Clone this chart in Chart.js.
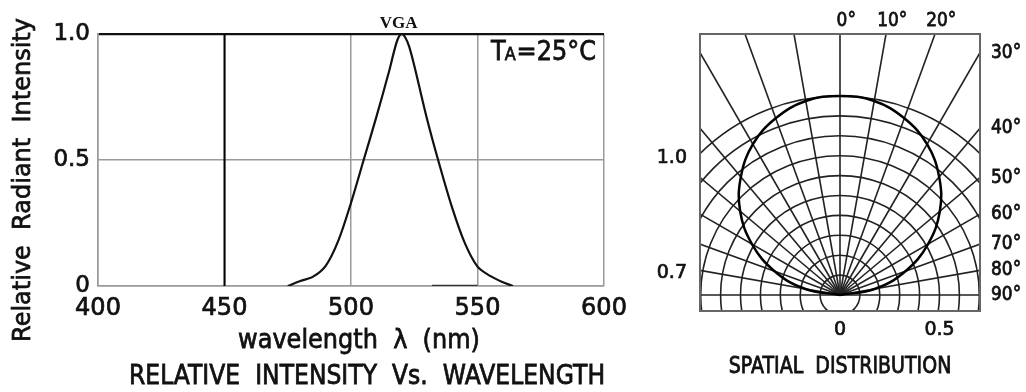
<!DOCTYPE html>
<html>
<head>
<meta charset="utf-8">
<title>VGA LED - spectrum and spatial distribution</title>
<script src="https://cdn.jsdelivr.net/npm/chart.js@4.4.1/dist/chart.umd.min.js"></script>
<style>
  html, body { margin: 0; padding: 0; background: #fff; }
  #wrap { position: relative; width: 1026px; height: 392px; overflow: hidden; }
  #spectrumBox { position: absolute; left: 0; top: 0; width: 640px; height: 392px; }
  #polarBox { position: absolute; left: 640px; top: 0; width: 386px; height: 392px; }
</style>
</head>
<body>
<div id="wrap">
  <div id="spectrumBox"><canvas id="spectrumChart"></canvas></div>
  <div id="polarBox"><canvas id="polarChart"></canvas></div>
</div>
<script>
// ---- Relative intensity vs wavelength ----
const wavelengths = [475, 480, 485, 490, 495, 500, 505, 510, 515, 517, 518.5, 520, 521.5, 523, 525, 530, 535, 540, 545, 550, 555, 560, 564];
const relIntensity = [0, 0.02, 0.037, 0.08, 0.18, 0.33, 0.5, 0.67, 0.85, 0.93, 0.98, 1.0, 0.985, 0.95, 0.875, 0.665, 0.48, 0.31, 0.17, 0.077, 0.04, 0.015, 0];
const markerWavelength = [450, 450];
const markerIntensity = [0, 1];
const baseWavelength = [532, 550];
const baseIntensity = [0, 0];
const xTicks = [400, 450, 500, 550, 600];
const yTicks = [0, 0.5, 1.0];
const yTickLabels = ['0', '0.5', '1.0'];
const curveName = 'VGA';

// ---- Spatial distribution ----
const polarAngles = [-90, -80, -70, -60, -50, -40, -30, -20, -10, 0, 10, 20, 30, 40, 50, 60, 70, 80, 90];
const polarIntensity = [0, 0.18, 0.35, 0.51, 0.655, 0.775, 0.875, 0.945, 0.99, 1.0, 0.99, 0.945, 0.875, 0.775, 0.655, 0.51, 0.35, 0.18, 0];
const ringRadii = [0.1, 0.2, 0.3, 0.4, 0.5, 0.6, 0.7, 0.8, 0.9, 1.0];
const radialAngles = [-90, -80, -70, -60, -50, -40, -30, -20, -10, 0, 10, 20, 30, 40, 50, 60, 70, 80, 90];
const angleLabelAngles = [0, 10, 20, 30, 40, 50, 60, 70, 80, 90];
const angleLabels = ['0°', '10°', '20°', '30°', '40°', '50°', '60°', '70°', '80°', '90°'];
const polarXTicks = [0, 0.5];
const polarXTickLabels = ['0', '0.5'];
const polarYTickLabels = ['1.0', '0.7'];

const FONT = "'DejaVu Sans', sans-serif";
const INK = '#111';
const STROKE = 0.7; // thickens the regular face a little, the datasheet lettering is semi-bold
Chart.defaults.font.family = FONT;
Chart.defaults.color = INK;

function toPoints(xs, ys) {
    return xs.map((v, i) => ({ x: v, y: ys[i] }));
}

// semi-bold text, optionally a bit taller than the font draws it
function label(ctx, text, x, y, stretch) {
    ctx.save();
    ctx.translate(x, y);
    ctx.scale(1, stretch || 1);
    ctx.fillStyle = INK;
    ctx.strokeStyle = INK;
    ctx.lineWidth = STROKE;
    ctx.fillText(text, 0, 0);
    ctx.strokeText(text, 0, 0);
    ctx.restore();
}

const tickStyle = size => ({ size: size });

// Left chart: titles, labels inside plot and caption
const spectrumLabels = {
    id: 'spectrumLabels',
    afterDraw(chart) {
        const { ctx, chartArea: a, scales: { x, y } } = chart;
        ctx.save();

        // y title
        ctx.save();
        ctx.translate(23, 180);
        ctx.rotate(-Math.PI / 2);
        ctx.font = '24px ' + FONT;
        ctx.textAlign = 'center';
        ctx.textBaseline = 'middle';
        label(ctx, 'Relative  Radiant  Intensity', 0, 0, 1.05);
        ctx.restore();

        // x title
        ctx.font = '24px ' + FONT;
        ctx.textAlign = 'center';
        ctx.textBaseline = 'middle';
        label(ctx, 'wavelength  λ  (nm)', (a.left + a.right) / 2 + 8, 341, 1.12);

        // caption
        ctx.font = '23.5px ' + FONT;
        label(ctx, 'RELATIVE  INTENSITY  Vs.  WAVELENGTH', (a.left + a.right) / 2 + 16, 377, 1.12);

        // curve name above the peak
        const peak = relIntensity.indexOf(Math.max(...relIntensity));
        ctx.font = "bold 17px 'Liberation Serif', serif";
        ctx.textAlign = 'center';
        ctx.textBaseline = 'alphabetic';
        ctx.fillStyle = INK;
        ctx.fillText(curveName, x.getPixelForValue(wavelengths[peak]) - 3, y.getPixelForValue(relIntensity[peak]) - 6);

        // TA=25°C
        let tx = a.right - 113;
        const ty = a.top + 26;
        ctx.textAlign = 'left';
        ctx.font = '24px ' + FONT;
        label(ctx, 'T', tx, ty, 1.1);
        tx += ctx.measureText('T').width - 1;
        ctx.font = '16px ' + FONT;
        label(ctx, 'A', tx, ty, 1.1);
        tx += ctx.measureText('A').width + 1;
        ctx.font = '24px ' + FONT;
        label(ctx, '=25°C', tx, ty, 1.1);
        ctx.restore();
    }
};

const spectrumChart = new Chart(document.getElementById('spectrumChart'), {
    type: 'scatter',
    data: {
        datasets: [{
            label: curveName,
            data: toPoints(wavelengths, relIntensity),
            showLine: true,
            borderColor: '#111',
            borderWidth: 2.2,
            pointRadius: 0,
            tension: 0.3
        }, {
            label: 'marker',
            data: toPoints(markerWavelength, markerIntensity),
            showLine: true,
            borderColor: '#000',
            borderWidth: 2,
            pointRadius: 0
        }, {
            label: 'base',
            data: toPoints(baseWavelength, baseIntensity),
            showLine: true,
            borderColor: '#333',
            borderWidth: 2.5,
            pointRadius: 0
        }]
    },
    options: {
        responsive: true,
        maintainAspectRatio: false,
        animation: false,
        layout: { padding: { top: 34, right: 36, left: 4, bottom: 32 } },
        plugins: { legend: { display: false }, tooltip: { enabled: false } },
        scales: {
            x: {
                type: 'linear',
                min: 400,
                max: 600,
                afterBuildTicks: s => { s.ticks = xTicks.map(v => ({ value: v })); },
                afterFit: s => { s.height = 74; },
                ticks: { font: tickStyle(24), color: INK, textStrokeColor: INK, textStrokeWidth: STROKE, padding: 8, maxRotation: 0, autoSkip: false },
                grid: { color: '#9a9a9a', lineWidth: 1.5, drawTicks: false },
                border: { color: '#9a9a9a', width: 1.5 }
            },
            y: {
                min: 0,
                max: 1,
                afterBuildTicks: s => { s.ticks = yTicks.map(v => ({ value: v })); },
                afterFit: s => { s.width = 94; },
                ticks: { font: tickStyle(23), color: INK, textStrokeColor: INK, textStrokeWidth: STROKE, padding: 8, callback: (v, i) => yTickLabels[i] },
                grid: {
                    drawTicks: false,
                    color: c => c.tick && c.tick.value === 1 ? '#111' : '#9a9a9a',
                    lineWidth: c => c.tick && c.tick.value === 1 ? 2.2 : 1.5
                },
                border: { color: '#9a9a9a', width: 1.5 }
            }
        }
    },
    plugins: [spectrumLabels]
});

// Right chart: polar grid, angle labels, caption
const polarGrid = {
    id: 'polarGrid',
    beforeDatasetsDraw(chart) {
        const { ctx, chartArea: a, scales: { x, y } } = chart;
        const ox = x.getPixelForValue(0), oy = y.getPixelForValue(0);
        const ux = x.getPixelForValue(1) - ox, uy = oy - y.getPixelForValue(1);
        ctx.save();
        ctx.beginPath();
        ctx.rect(a.left, a.top, a.right - a.left, a.bottom - a.top);
        ctx.clip();
        ctx.strokeStyle = '#222';
        ctx.lineWidth = 1.6;
        ringRadii.forEach(r => {
            ctx.beginPath();
            ctx.ellipse(ox, oy, r * ux, r * uy, 0, 0, Math.PI * 2);
            ctx.stroke();
        });
        radialAngles.forEach(deg => {
            const t = deg * Math.PI / 180;
            ctx.beginPath();
            ctx.moveTo(ox, oy);
            ctx.lineTo(ox + Math.sin(t) * 3 * ux, oy - Math.cos(t) * 3 * uy);
            ctx.stroke();
        });
        ctx.restore();

        ctx.save();
        ctx.strokeStyle = '#666';
        ctx.lineWidth = 2;
        ctx.strokeRect(a.left, a.top, a.right - a.left, a.bottom - a.top);
        ctx.restore();
    },
    afterDraw(chart) {
        const { ctx, chartArea: a, scales: { x, y } } = chart;
        ctx.save();
        ctx.font = '17px ' + FONT;
        ctx.textBaseline = 'middle';
        ctx.textAlign = 'left';
        angleLabelAngles.forEach((deg, i) => {
            const t = deg * Math.PI / 180;
            const dx = Math.sin(t), dy = Math.cos(t);
            const tTop = dy > 1e-6 ? y.max / dy : Infinity;
            const tRight = dx > 1e-6 ? x.max / dx : Infinity;
            const text = angleLabels[i];
            if (tTop <= tRight) {
                const px = x.getPixelForValue(dx * tTop);
                const numW = ctx.measureText(text.replace('°', '')).width;
                label(ctx, text, px - numW / 2 + 2, a.top - 13, 1.15);
            } else {
                const py = y.getPixelForValue(dy * tRight);
                label(ctx, text, a.right + 11, py, 1.15);
            }
        });

        ctx.font = '19px ' + FONT;
        ctx.textAlign = 'center';
        label(ctx, 'SPATIAL  DISTRIBUTION', (a.left + a.right) / 2, 367, 1.2);
        ctx.restore();
    }
};

const polarChart = new Chart(document.getElementById('polarChart'), {
    type: 'scatter',
    data: {
        datasets: [{
            label: 'spatial distribution',
            data: polarAngles.map((deg, i) => ({
                x: polarIntensity[i] * Math.sin(deg * Math.PI / 180),
                y: polarIntensity[i] * Math.cos(deg * Math.PI / 180)
            })),
            showLine: true,
            borderColor: '#000',
            borderWidth: 2.5,
            pointRadius: 0,
            tension: 0.4
        }]
    },
    options: {
        responsive: true,
        maintainAspectRatio: false,
        animation: false,
        layout: { padding: { top: 34, right: 46, left: 0, bottom: 41 } },
        plugins: { legend: { display: false }, tooltip: { enabled: false } },
        scales: {
            x: {
                type: 'linear',
                min: -0.7035,
                max: 0.7035,
                afterBuildTicks: s => { s.ticks = polarXTicks.map(v => ({ value: v })); },
                afterFit: s => { s.height = 40; },
                ticks: { font: tickStyle(19), color: INK, textStrokeColor: INK, textStrokeWidth: STROKE, padding: 0, maxRotation: 0, autoSkip: false, callback: (v, i) => polarXTickLabels[i] },
                grid: { display: false },
                border: { display: false }
            },
            y: {
                min: -0.0804,
                max: 1.3116,
                afterBuildTicks: s => { s.ticks = [{ value: 0.69 }, { value: 0.11 }]; },
                afterFit: s => { s.width = 60; },
                ticks: { font: tickStyle(19), color: INK, textStrokeColor: INK, textStrokeWidth: STROKE, padding: 5, callback: (v, i) => polarYTickLabels[i] },
                grid: { display: false },
                border: { display: false }
            }
        }
    },
    plugins: [polarGrid]
});
</script>
</body>
</html>
